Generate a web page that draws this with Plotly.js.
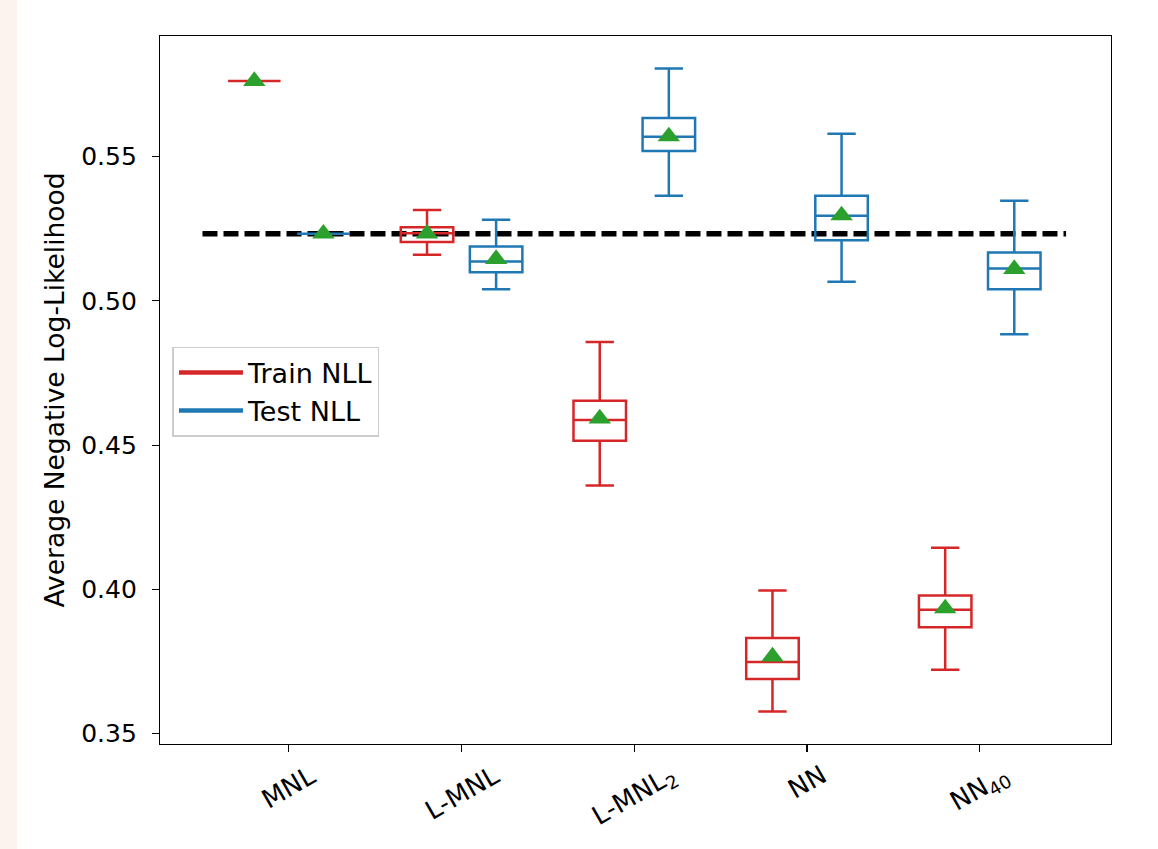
<!DOCTYPE html>
<html>
<head>
<meta charset="utf-8">
<script src="https://cdn.plot.ly/plotly-3.0.1.min.js"></script>
<style>
html, body { margin: 0; padding: 0; background: linear-gradient(to right, #fdf3ee 0px, #fdf3ee 17px, #ffffff 17px); }
#chart { width: 1158px; height: 849px; }
</style>
</head>
<body>
<div id="chart"></div>
<script>
// ---- data ----
const categories = ['MNL', 'L-MNL', 'L-MNL2', 'NN', 'NN40'];
const tickLabels = ['MNL', 'L-MNL', 'L-MNL<sub>2</sub>', 'NN', 'NN<sub>40</sub>'];

const trainLowerWhisker = [0.5762, 0.5160, 0.4360, 0.3577, 0.3721];
const trainQ1           = [0.5762, 0.5204, 0.4515, 0.3689, 0.3869];
const trainMedian       = [0.5762, 0.5234, 0.4587, 0.3748, 0.3929];
const trainQ3           = [0.5762, 0.5255, 0.4654, 0.3831, 0.3979];
const trainUpperWhisker = [0.5762, 0.5315, 0.4857, 0.3996, 0.4144];
const trainMean         = [0.5762, 0.5233, 0.4592, 0.3767, 0.3934];

const testLowerWhisker  = [0.5233, 0.5040, 0.5364, 0.5066, 0.4884];
const testQ1            = [0.5233, 0.5099, 0.5519, 0.5210, 0.5040];
const testMedian        = [0.5233, 0.5136, 0.5569, 0.5295, 0.5112];
const testQ3            = [0.5233, 0.5188, 0.5634, 0.5364, 0.5168];
const testUpperWhisker  = [0.5233, 0.5281, 0.5805, 0.5579, 0.5347];
const testMean          = [0.5233, 0.5145, 0.5570, 0.5296, 0.5110];

const baselineNLL = 0.5233;
const yTicks = [0.35, 0.40, 0.45, 0.50, 0.55];

const seriesNames = ['Train NLL', 'Test NLL'];
// ---- styles ----
const RED = '#d62728', BLUE = '#1f77b4', GREEN = '#2ca02c';
const FONT = 'DejaVu Sans, Verdana, sans-serif';

function boxTrace(name, color, lf, q1, med, q3, uf) {
  return {
    type: 'box', name: name, x: categories,
    lowerfence: lf, q1: q1, median: med, q3: q3, upperfence: uf,
    boxpoints: false, boxmean: false,
    line: { color: color, width: 2.5 },
    fillcolor: 'rgba(0,0,0,0)',
    whiskerwidth: 0.54,
    showlegend: false, hoverinfo: 'skip'
  };
}
function meanTrace(values) {
  return {
    type: 'scatter', mode: 'markers', x: categories, y: values,
    marker: { symbol: 'triangle-up', size: 19.5, color: GREEN, line: { width: 0 } },
    showlegend: false, hoverinfo: 'skip', cliponaxis: false
  };
}
function legendTrace(name, color) {
  return {
    type: 'scatter', mode: 'lines', x: [null], y: [null], orientation: 'h',
    name: name, line: { color: color, width: 4.5 }, hoverinfo: 'skip'
  };
}

const traces = [
  boxTrace(seriesNames[0], RED, trainLowerWhisker, trainQ1, trainMedian, trainQ3, trainUpperWhisker),
  boxTrace(seriesNames[1], BLUE, testLowerWhisker, testQ1, testMedian, testQ3, testUpperWhisker),
  legendTrace(seriesNames[0], RED),
  legendTrace(seriesNames[1], BLUE),
  meanTrace(trainMean),
  meanTrace(testMean)
];

const layout = {
  width: 1158, height: 849,
  margin: { l: 160, r: 47, t: 36, b: 105 },
  paper_bgcolor: 'rgba(0,0,0,0)',
  plot_bgcolor: '#ffffff',
  font: { family: FONT, color: '#000000', size: 24 },
  boxmode: 'group', boxgap: 0.2, boxgroupgap: 0.24,
  scattermode: 'group', scattergap: 0.2,
  showlegend: true,
  xaxis: {
    type: 'category', categoryorder: 'array', categoryarray: categories,
    range: [-0.746, 4.76],
    showticklabels: false, ticks: 'outside', ticklen: 7, tickwidth: 1.2, tickcolor: '#000',
    showline: true, mirror: true, linecolor: '#000', linewidth: 1.2,
    showgrid: false, zeroline: false
  },
  yaxis: {
    range: [0.3464, 0.5918],
    tickvals: yTicks, ticktext: yTicks.map(v => v.toFixed(2)),
    ticks: 'outside', ticklen: 7, tickwidth: 1.2, tickcolor: '#000',
    ticklabelstandoff: 10,
    tickfont: { size: 25 },
    showline: true, mirror: true, linecolor: '#000', linewidth: 1.2,
    showgrid: false, zeroline: false,
    title: { text: 'Average Negative Log-Likelihood', font: { size: 26.5 }, standoff: 8 }
  },
  legend: {
    x: 0.0131, y: 0.5608, xanchor: 'left', yanchor: 'top',
    bgcolor: 'rgba(255,255,255,0.85)', bordercolor: '#cccccc', borderwidth: 1.5,
    font: { size: 27 }, itemwidth: 64
  },
  shapes: [{
    type: 'line', xref: 'x', yref: 'y', x0: -0.5, x1: categories.length - 0.5,
    y0: baselineNLL, y1: baselineNLL, layer: 'below',
    line: { color: '#000', width: 5.5, dash: '15px,6px' }
  }],
  annotations: categories.map((c, i) => ({
    x: c, xref: 'x', y: 0, yref: 'paper', xanchor: 'center', yanchor: 'top',
    yshift: -13, textangle: -30, showarrow: false, text: tickLabels[i],
    font: { size: 26, family: FONT, color: '#000' }
  }))
};

Plotly.newPlot('chart', traces, layout, { displayModeBar: false, staticPlot: true });
</script>
</body>
</html>
